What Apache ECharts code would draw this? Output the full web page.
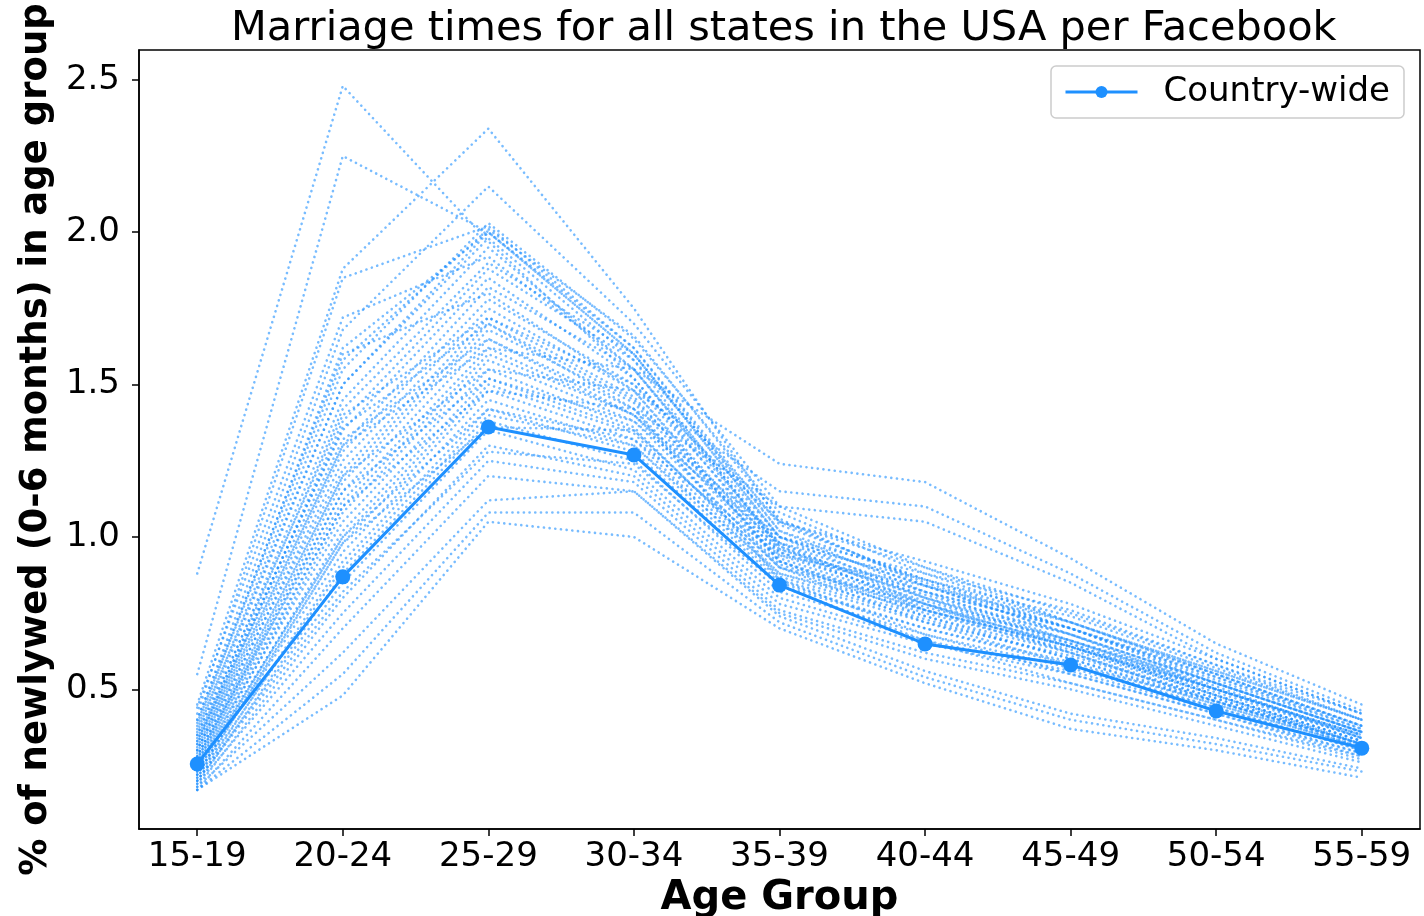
<!DOCTYPE html>
<html>
<head>
<meta charset="utf-8">
<script src="https://cdn.jsdelivr.net/npm/echarts@6/dist/echarts.min.js"></script>
<style>html,body{margin:0;padding:0;background:#fff;}#chart{width:1424px;height:916px;}</style>
</head>
<body>
<div id="chart"></div>
<script>
const ageGroups = ['15-19','20-24','25-29','30-34','35-39','40-44','45-49','50-54','55-59'];
const yTicks = [0.5, 1.0, 1.5, 2.0, 2.5];
const countryWide = [0.255, 0.869, 1.361, 1.269, 0.842, 0.649, 0.580, 0.429, 0.307];

const s01 = [0.88, 2.48, 1.97, 1.52, 0.98, 0.78, 0.62, 0.46, 0.32];
const s02 = [0.55, 2.25, 2.00, 1.60, 1.00, 0.80, 0.65, 0.48, 0.33];
const s03 = [0.45, 1.88, 2.34, 1.75, 1.05, 0.85, 0.70, 0.52, 0.36];
const s04 = [0.40, 1.68, 2.15, 1.70, 1.10, 0.90, 0.72, 0.55, 0.38];
const s05 = [0.42, 1.85, 2.02, 1.62, 1.02, 0.82, 0.66, 0.50, 0.34];
const s06 = [0.38, 1.62, 2.00, 1.60, 1.00, 0.84, 0.68, 0.50, 0.35];
const s07 = [0.36, 1.55, 2.03, 1.65, 1.08, 0.88, 0.72, 0.56, 0.40];
const s08 = [0.35, 1.50, 1.98, 1.58, 0.96, 0.80, 0.68, 0.52, 0.36];
const s09 = [0.33, 1.45, 1.95, 1.55, 0.98, 0.82, 0.70, 0.54, 0.38];
const s10 = [0.32, 1.42, 1.90, 1.60, 1.02, 0.86, 0.72, 0.56, 0.40];
const s11 = [0.30, 1.38, 1.88, 1.58, 1.05, 0.90, 0.75, 0.58, 0.42];
const s12 = [0.34, 1.35, 1.85, 1.52, 0.95, 0.78, 0.64, 0.48, 0.33];
const s13 = [0.31, 1.30, 1.82, 1.55, 1.00, 0.84, 0.70, 0.53, 0.37];
const s14 = [0.29, 1.28, 1.78, 1.50, 0.97, 0.80, 0.66, 0.50, 0.35];
const s15 = [0.28, 1.25, 1.75, 1.48, 0.94, 0.79, 0.66, 0.51, 0.34];
const s16 = [0.30, 1.22, 1.72, 1.46, 0.92, 0.76, 0.64, 0.48, 0.33];
const s17 = [0.27, 1.20, 1.70, 1.45, 0.96, 0.82, 0.70, 0.55, 0.38];
const s18 = [0.26, 1.18, 1.68, 1.44, 0.93, 0.78, 0.64, 0.49, 0.34];
const s19 = [0.25, 1.15, 1.65, 1.42, 0.92, 0.77, 0.65, 0.50, 0.35];
const s20 = [0.28, 1.12, 1.62, 1.40, 0.90, 0.75, 0.63, 0.48, 0.32];
const s21 = [0.24, 1.10, 1.60, 1.40, 0.95, 0.81, 0.68, 0.52, 0.36];
const s22 = [0.23, 1.08, 1.58, 1.38, 0.91, 0.76, 0.64, 0.50, 0.34];
const s23 = [0.25, 1.05, 1.55, 1.36, 0.88, 0.74, 0.62, 0.47, 0.32];
const s24 = [0.22, 1.02, 1.52, 1.35, 0.90, 0.78, 0.66, 0.52, 0.36];
const s25 = [0.24, 1.00, 1.50, 1.34, 0.87, 0.73, 0.60, 0.46, 0.31];
const s26 = [0.21, 0.98, 1.48, 1.32, 0.86, 0.72, 0.61, 0.47, 0.32];
const s27 = [0.22, 0.95, 1.45, 1.30, 0.85, 0.70, 0.58, 0.44, 0.30];
const s28 = [0.20, 0.92, 1.42, 1.28, 0.84, 0.70, 0.59, 0.45, 0.31];
const s29 = [0.21, 0.90, 1.40, 1.30, 0.88, 0.76, 0.64, 0.50, 0.35];
const s30 = [0.19, 0.88, 1.38, 1.25, 0.82, 0.68, 0.57, 0.44, 0.30];
const s31 = [0.20, 0.85, 1.35, 1.22, 0.80, 0.66, 0.56, 0.43, 0.29];
const s32 = [0.18, 0.80, 1.30, 1.20, 0.78, 0.65, 0.55, 0.42, 0.28];
const s33 = [0.19, 0.75, 1.25, 1.18, 0.76, 0.62, 0.52, 0.40, 0.27];
const s34 = [0.17, 0.70, 1.20, 1.15, 0.75, 0.60, 0.50, 0.38, 0.26];
const s35 = [0.18, 0.62, 1.12, 1.15, 0.74, 0.56, 0.42, 0.34, 0.24];
const s36 = [0.17, 0.55, 1.08, 1.08, 0.72, 0.54, 0.40, 0.32, 0.23];
const s37 = [0.17, 0.48, 1.05, 1.00, 0.70, 0.52, 0.37, 0.30, 0.21];
const s38 = [0.30, 1.30, 1.62, 1.55, 1.24, 1.18, 0.93, 0.65, 0.45];
const s39 = [0.28, 1.20, 1.55, 1.48, 1.15, 1.10, 0.88, 0.62, 0.43];
const s40 = [0.26, 1.10, 1.48, 1.42, 1.10, 1.05, 0.85, 0.60, 0.42];
const s41 = [0.40, 1.60, 1.80, 1.48, 0.92, 0.74, 0.60, 0.45, 0.31];
const s42 = [0.44, 1.72, 1.92, 1.55, 0.97, 0.76, 0.62, 0.46, 0.32];
const s43 = [0.35, 1.40, 1.72, 1.50, 1.05, 0.92, 0.78, 0.60, 0.42];
const s44 = [0.33, 1.32, 1.65, 1.40, 1.00, 0.88, 0.76, 0.58, 0.40];
const s45 = [0.27, 1.15, 1.52, 1.38, 0.98, 0.86, 0.74, 0.57, 0.40];
const s46 = [0.23, 1.00, 1.42, 1.32, 0.94, 0.84, 0.72, 0.55, 0.38];
const s47 = [0.37, 1.50, 2.00, 1.62, 1.04, 0.86, 0.70, 0.54, 0.37];
const s48 = [0.39, 1.58, 2.01, 1.66, 1.06, 0.84, 0.68, 0.52, 0.36];
const s49 = [0.22, 0.98, 1.36, 1.35, 0.90, 0.72, 0.58, 0.46, 0.32];
const s50 = [0.20, 0.82, 1.28, 1.24, 0.84, 0.66, 0.52, 0.40, 0.28];
const s51 = [0.32, 1.36, 1.70, 1.42, 0.86, 0.68, 0.55, 0.42, 0.29];

const states = [s01,s02,s03,s04,s05,s06,s07,s08,s09,s10,s11,s12,s13,s14,s15,s16,s17,
  s18,s19,s20,s21,s22,s23,s24,s25,s26,s27,s28,s29,s30,s31,s32,s33,s34,s35,s36,s37,
  s38,s39,s40,s41,s42,s43,s44,s45,s46,s47,s48,s49,s50,s51];

const FONT = 'DejaVu Sans';
const BLUE = '#1E90FF';
const toPairs = arr => arr.map((v, i) => [i, v]);

const series = states.map((s, k) => ({
  name: 'state' + (k + 1),
  type: 'line',
  data: toPairs(s),
  symbol: 'none',
  silent: true,
  z: 2,
  lineStyle: { color: 'rgba(30,144,255,0.6)', width: 2.6, type: [0.1, 5.6], cap: 'round' }
}));
series.push({
  name: 'Country-wide',
  type: 'line',
  data: toPairs(countryWide),
  symbol: 'circle',
  symbolSize: 15,
  z: 5,
  itemStyle: { color: BLUE },
  lineStyle: { color: BLUE, width: 3 }
});

const chart = echarts.init(document.getElementById('chart'), null, { renderer: 'canvas' });
chart.setOption({
  animation: false,
  backgroundColor: '#fff',
  title: {
    text: 'Marriage times for all states in the USA per Facebook',
    left: 226, top: 3,
    textStyle: { fontFamily: FONT, fontWeight: 'normal', fontSize: 41.5, color: '#000' }
  },
  legend: {
    data: ['Country-wide'],
    left: 1051, top: 66,
    padding: [9, 14, 9, 13],
    borderColor: '#cccccc', borderWidth: 1.5, borderRadius: 5,
    itemWidth: 72, itemHeight: 15,
    lineStyle: { width: 3 },
    textStyle: { fontFamily: FONT, fontSize: 34, color: '#000', padding: [0, 0, 0, 21] }
  },
  grid: {
    left: 139, right: 4, top: 50, bottom: 87,
    outerBoundsMode: 'none', containLabel: false,
    show: true, borderColor: '#000', borderWidth: 1.5, backgroundColor: '#fff'
  },
  xAxis: {
    type: 'value', min: -0.4, max: 8.4,
    name: 'Age Group', nameLocation: 'middle', nameGap: 48,
    nameTextStyle: { fontFamily: FONT, fontWeight: 'bold', fontSize: 40, color: '#000' },
    axisLine: { show: true, onZero: false, lineStyle: { color: '#000', width: 1.5 } },
    axisTick: { show: true, length: 7, lineStyle: { color: '#000', width: 1.5 }, customValues: ageGroups.map((_, i) => i) },
    axisLabel: { customValues: ageGroups.map((_, i) => i), formatter: v => ageGroups[Math.round(v)], fontFamily: FONT, fontSize: 34, color: '#000', margin: 11 },
    splitLine: { show: false }
  },
  yAxis: {
    type: 'value', min: 0.0416, max: 2.598,
    name: '% of newlywed (0-6 months) in age group', nameLocation: 'middle', nameGap: 72,
    nameTextStyle: { fontFamily: FONT, fontWeight: 'bold', fontSize: 37, color: '#000' },
    axisLine: { show: true, onZero: false, lineStyle: { color: '#000', width: 1.5 } },
    axisTick: { show: true, length: 7, lineStyle: { color: '#000', width: 1.5 }, customValues: yTicks },
    axisLabel: { customValues: yTicks, formatter: v => v.toFixed(1), fontFamily: FONT, fontSize: 34, color: '#000', margin: 19 },
    splitLine: { show: false }
  },
  series: series
});
</script>
</body>
</html>
